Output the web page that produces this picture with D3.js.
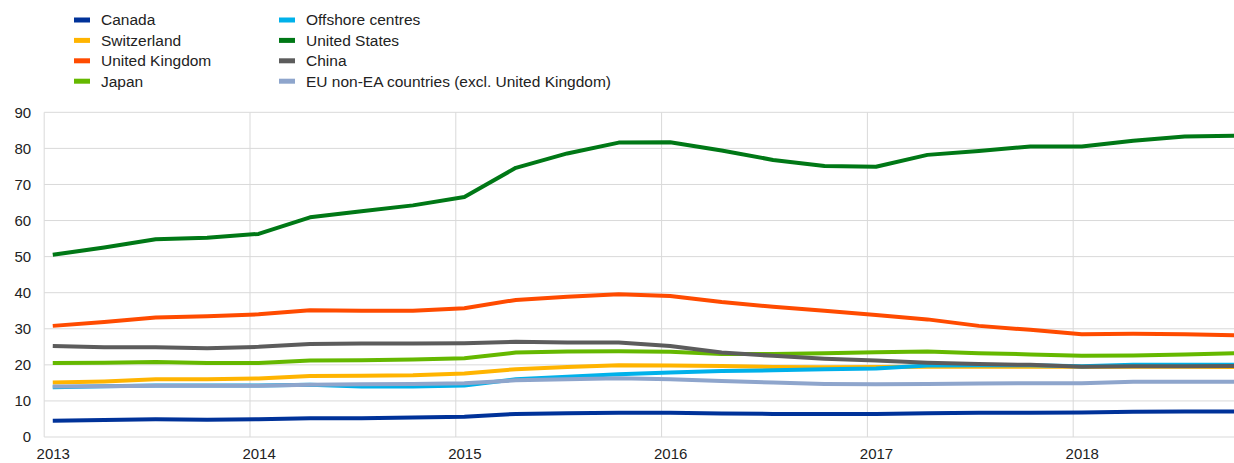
<!DOCTYPE html>
<html>
<head>
<meta charset="utf-8">
<script src="https://cdn.jsdelivr.net/npm/d3@7"></script>
<style>
body { margin: 0; background: #fff; }
svg { font-family: "Liberation Sans", Arial, sans-serif; }
</style>
</head>
<body>
<div id="chart"></div>
<script>
// quarterly observations, 2013 Q1 .. 2018 Q4
var quarters = ["2013Q1","2013Q2","2013Q3","2013Q4","2014Q1","2014Q2","2014Q3","2014Q4",
    "2015Q1","2015Q2","2015Q3","2015Q4","2016Q1","2016Q2","2016Q3","2016Q4",
    "2017Q1","2017Q2","2017Q3","2017Q4","2018Q1","2018Q2","2018Q3","2018Q4"];
var years = [2013, 2014, 2015, 2016, 2017, 2018];
var yTicks = [0, 10, 20, 30, 40, 50, 60, 70, 80, 90];

var seriesNames = ["Canada", "Switzerland", "United Kingdom", "Japan",
    "Offshore centres", "United States", "China", "EU non-EA countries (excl. United Kingdom)"];
var seriesColors = ["#003299", "#ffb400", "#ff4b00", "#65b800",
    "#00b1ea", "#007816", "#5c5c5c", "#8ea5cc"];

var canada = [4.5,4.7,4.9,4.8,4.9,5.2,5.2,5.4,5.6,6.4,6.6,6.7,6.7,6.5,6.4,6.4,6.4,6.6,6.7,6.7,6.8,7.0,7.1,7.1];
var switzerland = [15.1,15.4,16.0,16.0,16.2,16.9,17.0,17.1,17.6,18.8,19.4,19.9,19.8,19.7,19.4,19.3,19.4,19.5,19.5,19.5,19.5,19.5,19.5,19.4];
var unitedKingdom = [30.8,31.9,33.1,33.5,34.0,35.1,35.0,35.0,35.7,38.0,38.9,39.6,39.1,37.4,36.1,35.0,33.8,32.6,30.8,29.7,28.5,28.6,28.5,28.2];
var japan = [20.5,20.6,20.8,20.5,20.5,21.2,21.3,21.5,21.8,23.4,23.7,23.8,23.6,23.0,23.0,23.2,23.5,23.7,23.2,22.9,22.5,22.6,22.9,23.2];
var offshore = [13.8,14.1,14.3,14.3,14.3,14.5,14.0,14.0,14.3,16.0,16.7,17.4,17.9,18.3,18.5,18.8,19.0,19.8,19.9,19.9,19.6,20.0,20.0,20.0];
var unitedStates = [50.5,52.5,54.8,55.2,56.3,60.9,62.6,64.2,66.5,74.6,78.6,81.6,81.7,79.4,76.8,75.1,74.9,78.2,79.3,80.5,80.5,82.1,83.3,83.5];
var china = [25.2,24.9,24.9,24.6,25.0,25.8,25.9,25.9,26.0,26.4,26.2,26.2,25.2,23.4,22.5,21.7,21.2,20.6,20.2,20.0,19.5,19.6,19.6,19.7];
var euNonEa = [14.0,14.1,14.2,14.2,14.2,14.5,14.6,14.7,14.9,15.7,16.0,16.3,16.0,15.5,15.1,14.7,14.6,14.7,14.8,14.9,14.9,15.3,15.3,15.3];

var seriesValues = [canada, switzerland, unitedKingdom, japan, offshore, unitedStates, china, euNonEa];

var W = 1234, H = 463;
var plotLeft = 44.2, plotTop = 112.3, plotBottom = 437;
var monthW = 17.15;

// months since Jan 2013 (date axis, point sits in the middle of its month)
function monthIndex(q) {
    var yr = +q.slice(0, 4), n = +q.slice(5);
    return (yr - 2013) * 12 + (n - 1) * 3;
}

var x = d3.scaleLinear().domain([0, 72]).range([plotLeft, plotLeft + 72 * monthW]);
var y = d3.scaleLinear().domain([0, 90]).range([plotBottom, plotTop]);

var svg = d3.select("#chart").append("svg")
    .attr("width", W)
    .attr("height", H);

// horizontal grid
svg.append("g")
    .selectAll("line")
    .data(yTicks)
    .enter().append("line")
    .attr("x1", plotLeft).attr("x2", W)
    .attr("y1", function(d) { return y(d); })
    .attr("y2", function(d) { return y(d); })
    .style("stroke", "#d9d9d9")
    .style("stroke-width", 1);

// vertical year grid
svg.append("g")
    .selectAll("line")
    .data(years)
    .enter().append("line")
    .attr("x1", function(d) { return x((d - 2013) * 12); })
    .attr("x2", function(d) { return x((d - 2013) * 12); })
    .attr("y1", plotTop).attr("y2", plotBottom)
    .style("stroke", "#d9d9d9")
    .style("stroke-width", 1);

// y axis labels
var yAxis = d3.axisLeft(y).tickValues(yTicks).tickSize(0).tickPadding(13);
var gy = svg.append("g").attr("transform", "translate(" + plotLeft + ",0)").call(yAxis);
gy.select(".domain").remove();
gy.selectAll("text").style("font-size", "15px").style("fill", "#222").attr("font-family", null);

// x axis labels (centred on January)
var xAxis = d3.axisBottom(x)
    .tickValues(years.map(function(d) { return (d - 2013) * 12 + 0.5; }))
    .tickFormat(function(d) { return String(2013 + Math.floor(d / 12)); })
    .tickSize(0).tickPadding(11);
var gx = svg.append("g").attr("transform", "translate(0," + plotBottom + ")").call(xAxis);
gx.select(".domain").remove();
gx.selectAll("text").style("font-size", "15px").style("fill", "#222");
gy.attr("font-family", null);
gx.attr("font-family", null);

// lines
var line = d3.line()
    .x(function(d, i) { return x(monthIndex(quarters[i]) + 0.5); })
    .y(function(d) { return y(d); });

svg.append("g")
    .selectAll("path")
    .data(seriesValues)
    .enter().append("path")
    .attr("d", line)
    .style("fill", "none")
    .style("stroke", function(d, i) { return seriesColors[i]; })
    .style("stroke-width", 4)
    .style("stroke-linejoin", "round");

// legend, two columns of four
var legend = svg.append("g")
    .selectAll("g")
    .data(seriesNames)
    .enter().append("g")
    .attr("transform", function(d, i) {
        var col = Math.floor(i / 4), row = i % 4;
        return "translate(" + (74 + col * 205) + "," + (20 + row * 20.4) + ")";
    });
legend.append("rect")
    .attr("x", 0).attr("y", -2.5)
    .attr("width", 16).attr("height", 5)
    .style("fill", function(d, i) { return seriesColors[i]; });
legend.append("text")
    .attr("x", 27).attr("y", 0)
    .attr("dy", "0.35em")
    .style("font-size", "15.5px")
    .style("fill", "#222")
    .text(function(d) { return d; });
</script>
</body>
</html>
